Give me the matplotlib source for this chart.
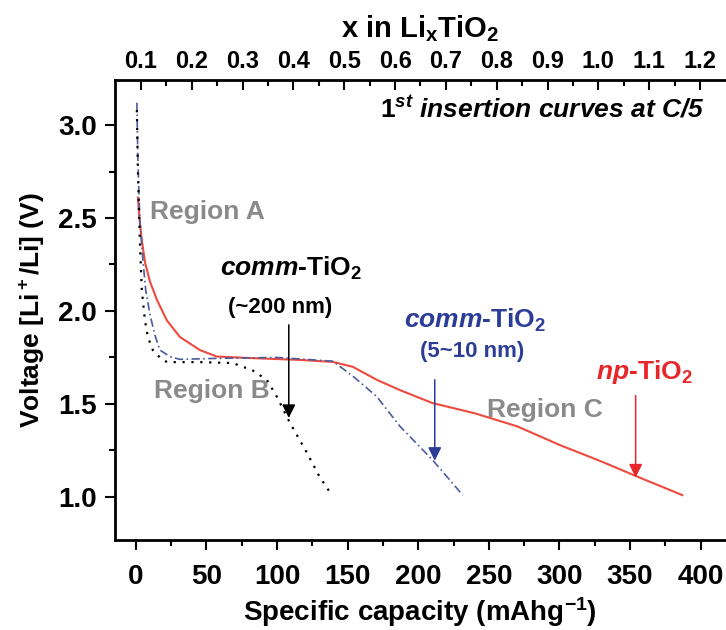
import numpy as np
import matplotlib
matplotlib.use("Agg")
import matplotlib.pyplot as plt
from matplotlib.ticker import MultipleLocator, FixedLocator, FormatStrFormatter

# ===============================================================================
# data: capacity (mAh/g) and voltage (V)

np_cap = [1.4, 2.5, 4.2, 6.5, 9.9, 14.9, 21.9, 31.2, 45.3, 57.3, 80.7, 116, 139.5, 153.6,
          170.6, 186.9, 210, 240, 270, 300, 330, 355, 387]
np_volt = [2.61, 2.50, 2.38, 2.26, 2.16, 2.06, 1.95, 1.86, 1.79, 1.755, 1.747, 1.737, 1.726, 1.70,
           1.63, 1.575, 1.505, 1.45, 1.38, 1.28, 1.19, 1.11, 1.01]

small_cap = [0.7, 1.4, 2.8, 5, 7, 10, 13.5, 17, 24, 31, 57, 100, 139.5, 153.6,
             170.6, 187, 210, 231.5]
small_volt = [3.12, 2.81, 2.49, 2.27, 2.11, 1.98, 1.87, 1.79, 1.755, 1.74, 1.745, 1.75, 1.73,
              1.65, 1.54, 1.38, 1.20, 1.01]

big_cap = [0.7, 1.4, 2.8, 4.2, 6.4, 8.5, 12, 17, 22, 45.3, 68.7, 82.8, 92.7,
           99.8, 109, 121, 130, 137]
big_volt = [3.08, 2.76, 2.38, 2.11, 1.95, 1.86, 1.79, 1.75, 1.725, 1.725, 1.72, 1.68,
            1.63, 1.54, 1.40, 1.24, 1.11, 1.03]

# top axis: x in LixTiO2
x_ticks = [0.1, 0.2, 0.3, 0.4, 0.5, 0.6, 0.7, 0.8, 0.9, 1.0, 1.1, 1.2]

# arrows: (capacity, start V, tip V)
arrow_big = (108.3, 1.94, 1.41)
arrow_small = (211.7, 1.645, 1.18)
arrow_np = (354, 1.56, 1.09)

# ===============================================================================

plt.rcParams['font.family'] = ['Liberation Sans', 'DejaVu Sans']
plt.rcParams['font.weight'] = 'bold'
plt.rcParams['mathtext.fontset'] = 'custom'
plt.rcParams['mathtext.rm'] = 'Liberation Sans:bold'
plt.rcParams['mathtext.bf'] = 'Liberation Sans:bold'
plt.rcParams['mathtext.it'] = 'Liberation Sans:italic:bold'

RED = '#ee4a3e'
RED_TXT = '#e8262a'
BLUE = '#4b5c9c'
BLUE_TXT = '#2b3d97'
GREY = '#8a8a8a'

fig = plt.figure(figsize=(7.26, 6.3), dpi=100)
ax = fig.add_axes([0.158, 0.143, 0.842, 0.730])

ax.plot(np_cap, np_volt, c=RED, lw=1.5, ls='-')
ax.plot(small_cap, small_volt, c=BLUE, lw=1.2, ls=(0, (5, 2, 1, 2)))
ax.plot(big_cap, big_volt, c='black', lw=1.6, ls=(0, (1, 3)))

for (c, v0, v1), col in zip([arrow_big, arrow_small, arrow_np], ['black', BLUE_TXT, RED_TXT]):
    ax.annotate('', xy=(c, v1), xytext=(c, v0),
                arrowprops=dict(arrowstyle='-|>', color=col, lw=1.1, mutation_scale=20))

ax.set_xlim(-15, 418)
ax.set_ylim(0.769, 3.242)

ax.xaxis.set_major_locator(MultipleLocator(50))
ax.xaxis.set_minor_locator(MultipleLocator(25))
ax.yaxis.set_major_locator(MultipleLocator(0.5))
ax.yaxis.set_minor_locator(MultipleLocator(0.25))
ax.yaxis.set_major_formatter(FormatStrFormatter('%.1f'))
ax.tick_params(which='both', direction='out', width=1.5, labelsize=20)
ax.tick_params(which='major', length=7)
ax.tick_params(which='minor', length=4)
ax.tick_params(axis='x', top=False, pad=10)
ax.tick_params(axis='y', pad=6)
ax.spines['right'].set_visible(False)
for s in ['left', 'bottom', 'top']:
    ax.spines[s].set_linewidth(2)

ax.set_xlabel('Specific capacity (mAhg$^{-1}$)', fontsize=20, fontweight='bold', labelpad=4)
ax.set_ylabel('Voltage [Li$^+$/Li] (V)', fontsize=19, fontweight='bold', labelpad=8)

sec = ax.secondary_xaxis('top', functions=(lambda c: 0.09 + c / 360.0,
                                            lambda x: (x - 0.09) * 360.0))
sec.xaxis.set_major_locator(FixedLocator(x_ticks))
sec.xaxis.set_minor_locator(FixedLocator([t + 0.05 for t in x_ticks[:-1]]))
sec.xaxis.set_major_formatter(FormatStrFormatter('%.1f'))
sec.tick_params(which='both', direction='in', width=1.5, labelsize=17, pad=5)
sec.tick_params(which='major', length=7)
sec.tick_params(which='minor', length=4)
sec.set_xlabel('x in Li$_\\mathrm{x}$TiO$_2$', fontsize=21, fontweight='bold', labelpad=9)

# annotations
ax.text(10, 2.53, 'Region A', color=GREY, fontsize=19, fontweight='bold', va='center')
ax.text(54, 1.57, 'Region B', color=GREY, fontsize=19, fontweight='bold', va='center', ha='center')
ax.text(289.5, 1.47, 'Region C', color=GREY, fontsize=19, fontweight='bold', va='center', ha='center')

ax.text(59.5, 2.23, '$\\mathit{comm}$-TiO$_2$', color='black', fontsize=19, va='center')
ax.text(102, 2.02, '(~200 nm)', color='black', fontsize=16, fontweight='bold', va='center', ha='center')
ax.text(190, 1.95, '$\\mathit{comm}$-TiO$_2$', color=BLUE_TXT, fontsize=19, va='center')
ax.text(238, 1.78, '(5~10 nm)', color=BLUE_TXT, fontsize=16, fontweight='bold', va='center', ha='center')
ax.text(326, 1.67, '$\\mathit{np}$-TiO$_2$', color=RED_TXT, fontsize=19, va='center')

ax.text(403, 3.09, '$\\mathit{1^{st}}$ insertion curves at C/5', fontsize=19,
        fontweight='bold', style='italic', ha='right', va='center')

plt.savefig('out.png', dpi=100)
plt.close()
